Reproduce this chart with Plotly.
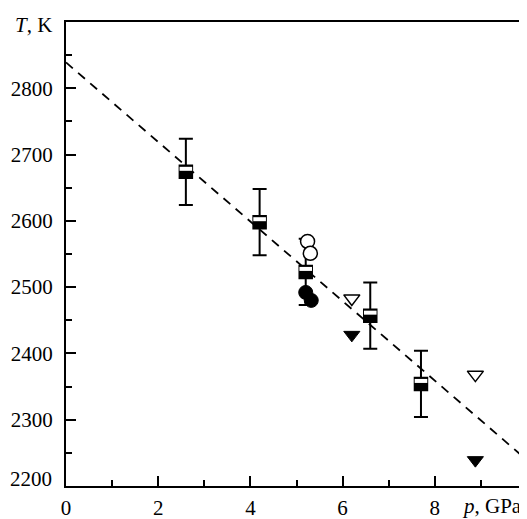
import plotly.graph_objects as go

# data
sq_p = [2.6, 4.2, 5.2, 6.6, 7.7]
sq_T = [2674, 2598, 2523, 2457, 2354]
sq_err = [50, 50, 50, 50, 50]

open_circ_p = [5.24, 5.3]
open_circ_T = [2569, 2551]
fill_circ_p = [5.2, 5.32]
fill_circ_T = [2492, 2480]

open_tri_p = [6.2, 8.88]
open_tri_T = [2483, 2368]
fill_tri_p = [6.2, 8.88]
fill_tri_T = [2428, 2239]

fit_p = [0, 10]
fit_T = [2839, 2239]

x_ticks = [0, 2, 4, 6, 8]
y_ticks = [2200, 2300, 2400, 2500, 2600, 2700, 2800]
y_ticktext = ["", "2300", "2400", "2500", "2600", "2700", "2800"]

FONT = "Liberation Serif"
FS = 21

fig = go.Figure()

fig.add_trace(go.Scatter(x=fit_p, y=fit_T, mode="lines",
                         line=dict(color="black", width=1.8, dash="9px,7px"),
                         hoverinfo="skip"))

# squares with error bars (half-filled look)
fig.add_trace(go.Scatter(x=sq_p, y=sq_T, mode="markers",
                         marker=dict(symbol="square", size=13, color="black",
                                     line=dict(color="black", width=1.5)),
                         error_y=dict(type="data", array=sq_err, visible=True,
                                      color="black", thickness=2, width=7)))
slot_T = [t + 4.5 for t in sq_T]
fig.add_trace(go.Scatter(x=sq_p, y=slot_T, mode="markers",
                         marker=dict(symbol="line-ew", size=9,
                                     line=dict(color="white", width=4))))

fig.add_trace(go.Scatter(x=fill_circ_p, y=fill_circ_T, mode="markers",
                         marker=dict(symbol="circle", size=14, color="black",
                                     line=dict(color="black", width=1))))
fig.add_trace(go.Scatter(x=open_circ_p, y=open_circ_T, mode="markers",
                         marker=dict(symbol="circle", size=14, color="white",
                                     line=dict(color="black", width=1.5))))
fig.add_trace(go.Scatter(x=open_tri_p, y=open_tri_T, mode="markers",
                         marker=dict(symbol="triangle-down", size=14, color="white",
                                     line=dict(color="black", width=1.5))))
fig.add_trace(go.Scatter(x=fill_tri_p, y=fill_tri_T, mode="markers",
                         marker=dict(symbol="triangle-down", size=14, color="black",
                                     line=dict(color="black", width=1))))

axis_common = dict(showgrid=False, zeroline=False, showline=True, linecolor="black",
                   linewidth=2, ticks="inside", ticklen=10, tickwidth=2,
                   tickcolor="black", automargin=False,
                   tickfont=dict(family=FONT, size=FS, color="black"))

fig.update_xaxes(range=[0, 10], tickvals=x_ticks, mirror=True,
                 minor=dict(tickvals=[1, 3, 5, 7, 9], ticks="inside", ticklen=6,
                            tickwidth=2, tickcolor="black"),
                 ticklabelstandoff=2, **axis_common)
fig.update_yaxes(range=[2200, 2900], tickvals=y_ticks, ticktext=y_ticktext,
                 minor=dict(tickvals=[2250, 2350, 2450, 2550, 2650, 2750, 2850],
                            ticks="inside", ticklen=6, tickwidth=2, tickcolor="black"),
                 ticklabelstandoff=7, **axis_common)

# lowest y label sits slightly above the x axis
fig.add_annotation(x=0, y=y_ticks[0], xref="x", yref="y", xanchor="right",
                   yanchor="middle", xshift=-12, yshift=7, showarrow=False,
                   text=str(y_ticks[0]), font=dict(family=FONT, size=FS, color="black"))

fig.add_annotation(x=0, y=2900, xref="x", yref="y", xanchor="right", yanchor="middle",
                   xshift=-12, yshift=-3, showarrow=False,
                   text="<i>T</i>, K", font=dict(family=FONT, size=FS, color="black"))
fig.add_annotation(x=10, y=2200, xref="x", yref="y", xanchor="right", yanchor="middle",
                   xshift=-4, yshift=-20, showarrow=False, borderpad=0,
                   text="<i>p</i>, GPa", font=dict(family=FONT, size=FS, color="black"))

fig.update_layout(width=527, height=519, showlegend=False,
                  plot_bgcolor="white", paper_bgcolor="white",
                  margin=dict(l=58, r=8, t=14, b=41))

fig.write_html("out.html")
